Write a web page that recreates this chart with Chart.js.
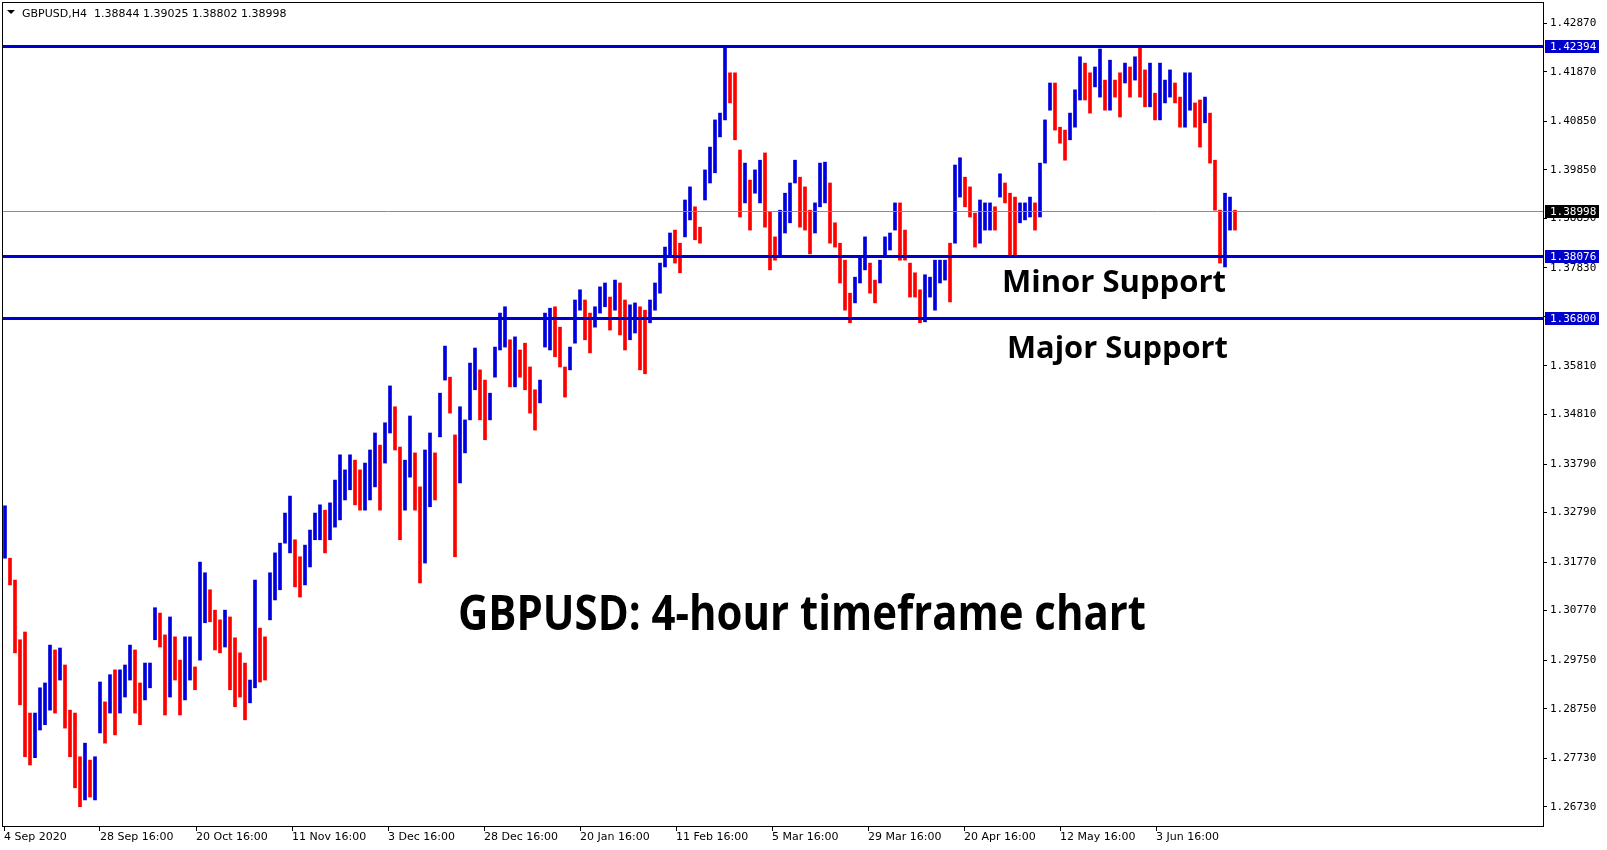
<!DOCTYPE html>
<html>
<head>
<meta charset="utf-8">
<title>GBPUSD H4</title>
<script src="https://cdn.jsdelivr.net/npm/chart.js@4.4.1/dist/chart.umd.min.js"></script>
<style>
    html, body { margin: 0; padding: 0; background: #fff; }
    #wrap { width: 1607px; height: 850px; }
</style>
</head>
<body>
<div id="wrap"><canvas id="gbpChart" width="1607" height="850"></canvas></div>
<script>
// GBPUSD H4 from 4 Sep 2020 to mid June 2021.
// One entry = 5 consecutive H4 bars (their high and low).
const barsPerEntry = 5;

const highs = [
    1.3293, 1.3185, 1.3140, 1.3017, 1.3033, 1.2866, 1.2866, 1.2918, 1.2928, 1.3006,
    1.2996, 1.3000, 1.2965, 1.2872, 1.2866, 1.2776, 1.2804, 1.2769, 1.2776, 1.2930,
    1.2889, 1.2945, 1.2955, 1.2955, 1.2965, 1.3006, 1.2996, 1.2928, 1.2969, 1.2969,
    1.3083, 1.3072, 1.3027, 1.3064, 1.3023, 1.2975, 1.3023, 1.3023, 1.2961, 1.3177,
    1.3155, 1.3120, 1.3078, 1.3058, 1.3078, 1.3064, 1.3021, 1.2990, 1.2969, 1.2934,
    1.3140, 1.3041, 1.3023, 1.3155, 1.3196, 1.3216, 1.3278, 1.3313, 1.3223, 1.3188,
    1.3212, 1.3243, 1.3278, 1.3295, 1.3284, 1.3299, 1.3346, 1.3398, 1.3367, 1.3398,
    1.3387, 1.3367, 1.3381, 1.3408, 1.3443, 1.3418, 1.3464, 1.3540, 1.3497, 1.3414,
    1.3387, 1.3478, 1.3402, 1.3332, 1.3408, 1.3443, 1.3402, 1.3525, 1.3622, 1.3558,
    1.3439, 1.3497, 1.3470, 1.3587, 1.3618, 1.3573, 1.3552, 1.3525, 1.3620, 1.3690,
    1.3703, 1.3635, 1.3641, 1.3614, 1.3628, 1.3579, 1.3532, 1.3552, 1.3690, 1.3700,
    1.3703, 1.3661, 1.3579, 1.3620, 1.3717, 1.3738, 1.3717, 1.3690, 1.3703, 1.3744,
    1.3752, 1.3723, 1.3758, 1.3752, 1.3717, 1.3707, 1.3711, 1.3703, 1.3696, 1.3717,
    1.3752, 1.3793, 1.3826, 1.3855, 1.3861, 1.3834, 1.3923, 1.3950, 1.3909, 1.3867,
    1.3985, 1.4032, 1.4088, 1.4102, 1.4239, 1.4185, 1.4185, 1.4026, 1.3999, 1.3964,
    1.3985, 1.4005, 1.4020, 1.3898, 1.3847, 1.3902, 1.3937, 1.3958, 1.4005, 1.3970,
    1.3950, 1.3902, 1.3917, 1.3999, 1.4001, 1.3958, 1.3876, 1.3834, 1.3799, 1.3731,
    1.3764, 1.3806, 1.3847, 1.3793, 1.3758, 1.3799, 1.3847, 1.3855, 1.3917, 1.3917,
    1.3861, 1.3793, 1.3773, 1.3738, 1.3769, 1.3764, 1.3799, 1.3799, 1.3799, 1.3834,
    1.3995, 1.4010, 1.3970, 1.3950, 1.3896, 1.3923, 1.3917, 1.3917, 1.3909, 1.3977,
    1.3958, 1.3937, 1.3929, 1.3917, 1.3917, 1.3929, 1.3917, 1.3999, 1.4088, 1.4164,
    1.4164, 1.4073, 1.4067, 1.4102, 1.4150, 1.4218, 1.4205, 1.4185, 1.4197, 1.4234,
    1.4170, 1.4211, 1.4170, 1.4185, 1.4205, 1.4197, 1.4218, 1.4239, 1.4191, 1.4205,
    1.4143, 1.4205, 1.4170, 1.4191, 1.4164, 1.4135, 1.4185, 1.4185, 1.4123, 1.4129,
    1.4135, 1.4102, 1.4005, 1.3902, 1.3937, 1.3929, 1.3902
];

const lows = [
    1.3185, 1.3130, 1.2990, 1.2883, 1.2776, 1.2759, 1.2774, 1.2831, 1.2842, 1.2872,
    1.2866, 1.2934, 1.2835, 1.2776, 1.2712, 1.2673, 1.2687, 1.2693, 1.2687, 1.2825,
    1.2804, 1.2866, 1.2821, 1.2866, 1.2899, 1.2934, 1.2866, 1.2842, 1.2893, 1.2918,
    1.3017, 1.3002, 1.2862, 1.2899, 1.2934, 1.2862, 1.2893, 1.2934, 1.2914, 1.2975,
    1.3052, 1.3054, 1.2996, 1.2990, 1.3002, 1.2914, 1.2879, 1.2899, 1.2852, 1.2887,
    1.2918, 1.2930, 1.2934, 1.3058, 1.3099, 1.3120, 1.3216, 1.3196, 1.3126, 1.3105,
    1.3130, 1.3167, 1.3223, 1.3223, 1.3196, 1.3223, 1.3249, 1.3264, 1.3305, 1.3326,
    1.3295, 1.3284, 1.3284, 1.3305, 1.3332, 1.3284, 1.3381, 1.3443, 1.3408, 1.3223,
    1.3284, 1.3352, 1.3284, 1.3134, 1.3175, 1.3291, 1.3305, 1.3435, 1.3552, 1.3484,
    1.3188, 1.3340, 1.3402, 1.3470, 1.3532, 1.3470, 1.3429, 1.3470, 1.3558, 1.3614,
    1.3620, 1.3538, 1.3538, 1.3558, 1.3532, 1.3484, 1.3449, 1.3505, 1.3620, 1.3614,
    1.3600, 1.3579, 1.3517, 1.3573, 1.3628, 1.3696, 1.3635, 1.3608, 1.3661, 1.3690,
    1.3703, 1.3655, 1.3696, 1.3645, 1.3614, 1.3635, 1.3649, 1.3573, 1.3565, 1.3670,
    1.3696, 1.3731, 1.3785, 1.3806, 1.3793, 1.3773, 1.3847, 1.3882, 1.3841, 1.3834,
    1.3923, 1.3958, 1.3979, 1.4053, 1.4088, 1.4123, 1.4047, 1.3888, 1.3917, 1.3861,
    1.3937, 1.3917, 1.3867, 1.3779, 1.3799, 1.3806, 1.3855, 1.3876, 1.3958, 1.3867,
    1.3861, 1.3812, 1.3855, 1.3909, 1.3917, 1.3834, 1.3826, 1.3752, 1.3696, 1.3670,
    1.3711, 1.3752, 1.3779, 1.3731, 1.3711, 1.3752, 1.3806, 1.3820, 1.3861, 1.3799,
    1.3799, 1.3723, 1.3723, 1.3670, 1.3672, 1.3723, 1.3696, 1.3752, 1.3758, 1.3713,
    1.3834, 1.3929, 1.3909, 1.3888, 1.3826, 1.3834, 1.3861, 1.3861, 1.3861, 1.3929,
    1.3917, 1.3806, 1.3806, 1.3876, 1.3882, 1.3888, 1.3861, 1.3888, 1.3999, 1.4108,
    1.4067, 1.4040, 1.4005, 1.4047, 1.4073, 1.4129, 1.4129, 1.4102, 1.4156, 1.4135,
    1.4108, 1.4108, 1.4135, 1.4094, 1.4164, 1.4135, 1.4170, 1.4135, 1.4115, 1.4115,
    1.4088, 1.4088, 1.4123, 1.4135, 1.4123, 1.4073, 1.4073, 1.4108, 1.4073, 1.4032,
    1.4082, 1.3999, 1.3902, 1.3793, 1.3785, 1.3861, 1.3861
];

// bottom axis: H4 bar index of each date label
const xTickIdx = [1, 97, 193, 289, 385, 481, 577, 673, 769, 865, 961, 1057, 1153];
const xTickLabels = ['4 Sep 2020', '28 Sep 16:00', '20 Oct 16:00', '11 Nov 16:00', '3 Dec 16:00',
    '28 Dec 16:00', '20 Jan 16:00', '11 Feb 16:00', '5 Mar 16:00', '29 Mar 16:00',
    '20 Apr 16:00', '12 May 16:00', '3 Jun 16:00'];

// right price axis
const yTickValues = [1.26730, 1.27730, 1.28750, 1.29750, 1.30770, 1.31770, 1.32790, 1.33790,
    1.34810, 1.35810, 1.36820, 1.37830, 1.38850, 1.39850, 1.40850, 1.41870, 1.42870];

const levelLines = [1.42394, 1.38076, 1.36800];
const bidPrice = 1.38998;
const headerQuote = 'GBPUSD,H4  1.38844 1.39025 1.38802 1.38998';

const BLUE = '#0000dd';
const RED = '#ff0000';
const LINE_BLUE = '#0000cd';

function barColor(ctx) {
    const i = ctx.dataIndex;
    if (i === 0) return BLUE;
    const mid = (highs[i] + lows[i]) / 2;
    const prev = (highs[i - 1] + lows[i - 1]) / 2;
    return mid >= prev ? BLUE : RED;
}

// draws text squeezed/stretched to a given width
function drawFitted(ctx, text, x, baseline, font, width) {
    ctx.save();
    ctx.font = font;
    const natural = ctx.measureText(text).width;
    ctx.translate(x, baseline);
    ctx.scale(width / natural, 1);
    ctx.textAlign = 'left';
    ctx.textBaseline = 'alphabetic';
    ctx.fillText(text, 0, 0);
    ctx.restore();
}

// keep the plot area exactly where the terminal puts it
function noPadding(s) {
    s.paddingLeft = 0;
    s.paddingRight = 0;
    s.paddingTop = 0;
    s.paddingBottom = 0;
}

const mt4Overlay = {
    id: 'mt4Overlay',
    afterDatasetsDraw(chart) {
        const { ctx, chartArea, scales } = chart;
        const y = scales.y;
        ctx.save();
        ctx.beginPath();
        ctx.rect(chartArea.left, chartArea.top, chartArea.right - chartArea.left, chartArea.bottom - chartArea.top);
        ctx.clip();

        // bid line
        const by = Math.round(y.getPixelForValue(bidPrice)) + 0.5;
        ctx.strokeStyle = '#8c8c8c';
        ctx.lineWidth = 1;
        ctx.beginPath();
        ctx.moveTo(chartArea.left, by);
        ctx.lineTo(chartArea.right, by);
        ctx.stroke();

        // support / resistance lines
        ctx.strokeStyle = LINE_BLUE;
        ctx.lineWidth = 3;
        levelLines.forEach(v => {
            const py = Math.round(y.getPixelForValue(v)) + 0.5;
            ctx.beginPath();
            ctx.moveTo(chartArea.left, py);
            ctx.lineTo(chartArea.right, py);
            ctx.stroke();
        });
        ctx.restore();
    },
    afterDraw(chart) {
        const { ctx, chartArea, scales } = chart;
        const y = scales.y;
        ctx.save();

        // frame
        ctx.strokeStyle = '#000';
        ctx.lineWidth = 1;
        ctx.strokeRect(chartArea.left + 0.5, chartArea.top + 0.5,
            chartArea.right - chartArea.left, chartArea.bottom - chartArea.top);

        // price labels on the axis
        ctx.font = '11px "DejaVu Sans Mono"';
        ctx.textBaseline = 'middle';
        ctx.textAlign = 'left';
        const boxes = levelLines.map(v => ({ v, bg: LINE_BLUE })).concat([{ v: bidPrice, bg: '#000' }]);
        boxes.forEach(b => {
            const py = Math.round(y.getPixelForValue(b.v));
            ctx.fillStyle = b.bg;
            ctx.fillRect(chartArea.right + 2, py - 6, 54, 13);
            ctx.fillStyle = '#fff';
            ctx.fillText(b.v.toFixed(5), chartArea.right + 7, py + 1);
        });

        // header
        ctx.fillStyle = '#000';
        ctx.beginPath();
        ctx.moveTo(7, 10);
        ctx.lineTo(15, 10);
        ctx.lineTo(11, 14);
        ctx.closePath();
        ctx.fill();
        ctx.font = '11px "DejaVu Sans"';
        ctx.textBaseline = 'alphabetic';
        ctx.fillText(headerQuote, 22, 17);

        // annotations
        ctx.fillStyle = '#000';
        drawFitted(ctx, 'Minor Support', 1002, 292, '700 30px "Open Sans"', 224);
        drawFitted(ctx, 'Major Support', 1007, 358, '700 30px "Open Sans"', 221);
        drawFitted(ctx, 'GBPUSD: 4-hour timeframe chart', 458, 630, '700 49px "Open Sans"', 688);
        ctx.restore();
    }
};

const ctx = document.getElementById('gbpChart').getContext('2d');
new Chart(ctx, {
    type: 'bar',
    data: {
        datasets: [{
            label: 'GBPUSD H4',
            data: highs.map((h, i) => ({ x: i * barsPerEntry + 2, y: [lows[i], h] })),
            backgroundColor: barColor,
            borderWidth: 0,
            barThickness: 3,
            borderSkipped: false
        }]
    },
    options: {
        responsive: false,
        devicePixelRatio: 1,
        animation: false,
        layout: { padding: { left: 2, top: 2, right: 0, bottom: 0 } },
        plugins: {
            legend: { display: false },
            tooltip: { enabled: false },
            title: { display: false }
        },
        scales: {
            x: {
                type: 'linear',
                offset: false,
                min: -1,
                max: 1540,
                afterBuildTicks: s => { s.ticks = xTickIdx.map(v => ({ value: v })); },
                afterFit: s => { s.height = 24; noPadding(s); },
                grid: { offset: false, drawOnChartArea: false, drawTicks: true, tickLength: 5, color: '#000' },
                border: { display: true, color: '#000' },
                ticks: {
                    autoSkip: false,
                    maxRotation: 0,
                    align: 'start',
                    padding: 0,
                    color: '#000',
                    font: { family: 'DejaVu Sans', size: 11 },
                    callback: (v, i) => xTickLabels[i]
                }
            },
            y: {
                type: 'linear',
                position: 'right',
                min: 1.26333,
                max: 1.43309,
                afterBuildTicks: s => { s.ticks = yTickValues.map(v => ({ value: v })); },
                afterFit: s => { s.width = 64; noPadding(s); },
                grid: { drawOnChartArea: false, drawTicks: true, tickLength: 4, color: '#000' },
                border: { display: true, color: '#000' },
                ticks: {
                    padding: 3,
                    color: '#000',
                    font: { family: 'DejaVu Sans Mono', size: 11 },
                    callback: v => Number(v).toFixed(5)
                }
            }
        }
    },
    plugins: [mt4Overlay]
});
</script>
</body>
</html>
